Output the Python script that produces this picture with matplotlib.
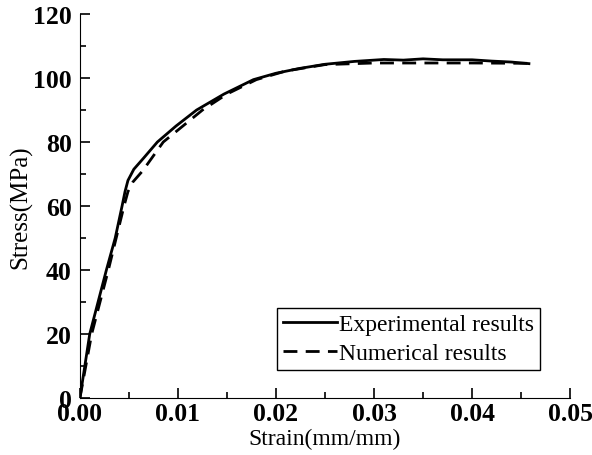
import matplotlib.pyplot as plt
from matplotlib.ticker import MultipleLocator

exp_strain = [0, 0.001, 0.0027, 0.0036, 0.0043, 0.0046, 0.0049, 0.0055, 0.0065, 0.0079, 0.0098,
              0.0119, 0.0147, 0.0177, 0.020, 0.0224, 0.025, 0.028, 0.031, 0.033, 0.035,
              0.037, 0.040, 0.042, 0.044, 0.0458]
exp_stress = [0, 20, 40, 50, 60, 64.5, 68, 71.5, 75, 80, 85,
              90, 95, 99.5, 101.5, 103, 104.3, 105.2, 105.8, 105.6, 106,
              105.7, 105.7, 105.3, 105.0, 104.5]

# Численная кривая
num_strain = [0, 0.0012, 0.0029, 0.0045, 0.0049, 0.0054, 0.0064, 0.0085, 0.0105, 0.0125, 0.015,
              0.018, 0.021, 0.025, 0.030, 0.035, 0.040, 0.0458]
num_stress = [0, 20, 40, 60, 64.5, 67.5, 71, 80, 85, 90, 95,
              99.5, 102.2, 104.2, 104.7, 104.7, 104.7, 104.6]

plt.rcParams['font.family'] = 'Liberation Serif'

fig = plt.figure(figsize=(5.92, 4.56), dpi=100)
ax = fig.add_axes([0.135, 0.125, 0.828, 0.842])

ax.plot(exp_strain, exp_stress, color='black', lw=2, label='Experimental results')
ax.plot(num_strain, num_stress, color='black', lw=2, ls=(0, (5, 3)), label='Numerical results')

ax.set_xlim(0, 0.05)
ax.set_ylim(0, 120)
ax.xaxis.set_major_locator(MultipleLocator(0.01))
ax.xaxis.set_minor_locator(MultipleLocator(0.005))
ax.yaxis.set_major_locator(MultipleLocator(20))
ax.yaxis.set_minor_locator(MultipleLocator(10))
ax.xaxis.set_major_formatter(plt.FormatStrFormatter('%.2f'))

ax.spines['top'].set_visible(False)
ax.spines['right'].set_visible(False)
ax.tick_params(which='both', direction='in', width=1.2)
ax.tick_params(which='major', length=7, labelsize=18.5)
ax.tick_params(which='minor', length=4)
ax.tick_params(axis='x', which='major', pad=3)
ax.tick_params(axis='y', which='major', pad=6)
for lbl in ax.get_xticklabels() + ax.get_yticklabels():
    lbl.set_fontweight('bold')

ax.set_xlabel('Strain(mm/mm)', fontsize=17, labelpad=2)
ax.set_ylabel('Stress(MPa)', fontsize=18, labelpad=0)

leg = ax.legend(loc='lower right', bbox_to_anchor=(0.939, 0.073), fontsize=17,
                frameon=True, fancybox=False, edgecolor='black', framealpha=1,
                handlelength=2.3, handletextpad=0.1, borderpad=0.25,
                labelspacing=0.3, borderaxespad=0)
leg.get_frame().set_linewidth(1.0)

fig.savefig('out.png', dpi=100)
